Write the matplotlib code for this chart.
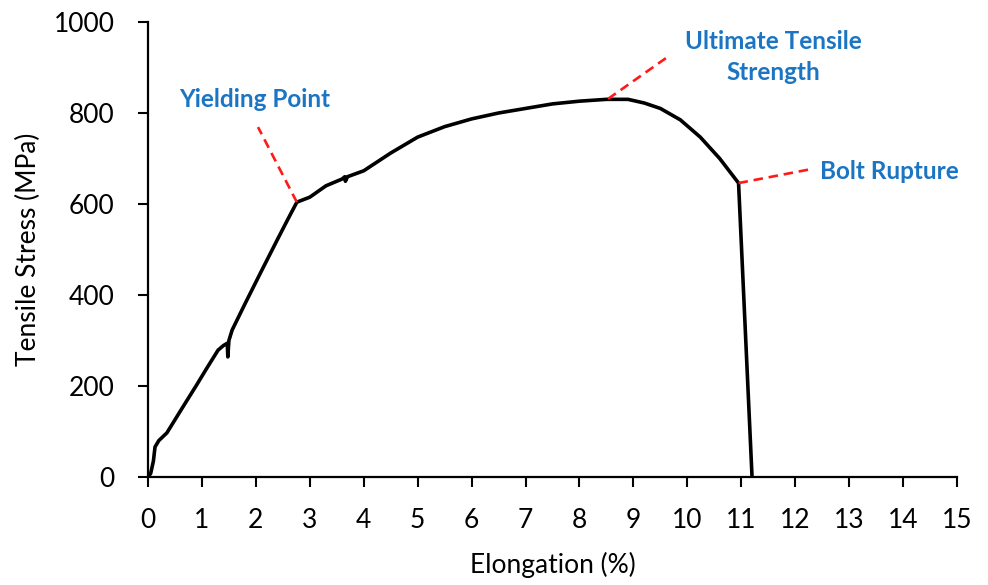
import numpy as np
import matplotlib
matplotlib.use("Agg")
import matplotlib.pyplot as plt

plt.rcParams['font.family'] = ['Lato', 'DejaVu Sans']

# stress-strain curve
elong = [0.0, 0.05, 0.10, 0.13, 0.20, 0.35, 0.60, 0.90, 1.10, 1.30, 1.40, 1.47,
         1.48, 1.50, 1.56, 1.80, 2.10, 2.40, 2.60, 2.76, 3.00, 3.30, 3.60, 3.65,
         3.66, 3.70, 4.00, 4.50, 5.00, 5.50, 6.00, 6.50, 7.00, 7.50, 8.00, 8.50,
         8.90, 9.20, 9.50, 9.87, 10.24, 10.60, 10.95, 11.20]
stress = [0, 8, 35, 66, 80, 97, 145, 202, 241, 279, 289, 294,
          264, 300, 323, 381, 452, 522, 568, 604, 615, 640, 655, 660,
          650, 660, 673, 712, 747, 770, 787, 800, 810, 820, 826, 830,
          830, 822, 810, 785, 747, 700, 646, 0]

xticks = list(range(0, 16))
yticks = [0, 200, 400, 600, 800, 1000]

# annotations: (text, point on curve, end of dashed line, text position, ha, va)
notes = [
    ("Yielding Point", (2.76, 604), (2.04, 769), (1.97, 830), "center", "center"),
    ("Ultimate Tensile\nStrength", (8.53, 831), (9.68, 927), (11.59, 923), "center", "center"),
    ("Bolt Rupture", (10.95, 646), (12.31, 677), (12.46, 672), "left", "center"),
]

fig = plt.figure(figsize=(9.88, 5.85), dpi=100)
ax = fig.add_axes([0.1498, 0.1846, 0.9686 - 0.1498, 0.9624 - 0.1846])

ax.plot(elong, stress, color='black', linewidth=2.6, solid_joinstyle='round')

for txt, p0, p1, pt, ha, va in notes:
    ax.plot([p0[0], p1[0]], [p0[1], p1[1]], color='#FF1A1A', linewidth=1.9,
            linestyle=(0, (3.6, 2.2)))
    ax.text(pt[0], pt[1], txt, color='#1B75C2', fontsize=17.5, fontweight='bold',
            ha=ha, va=va, linespacing=1.4)

ax.set_xlim(0, 15)
ax.set_ylim(0, 1000)
ax.set_xticks(xticks)
ax.set_yticks(yticks)
ax.tick_params(axis='both', direction='out', length=7, width=1.5, labelsize=19,
               colors='black')
ax.tick_params(axis='x', pad=15)
ax.tick_params(axis='y', pad=17)
for s in ['top', 'right']:
    ax.spines[s].set_visible(False)
for s in ['left', 'bottom']:
    ax.spines[s].set_linewidth(1.6)
ax.set_xlabel("Elongation (%)", fontsize=19, labelpad=14)
ax.set_ylabel("Tensile Stress (MPa)", fontsize=19, labelpad=9)

fig.savefig("out.png", dpi=100)
